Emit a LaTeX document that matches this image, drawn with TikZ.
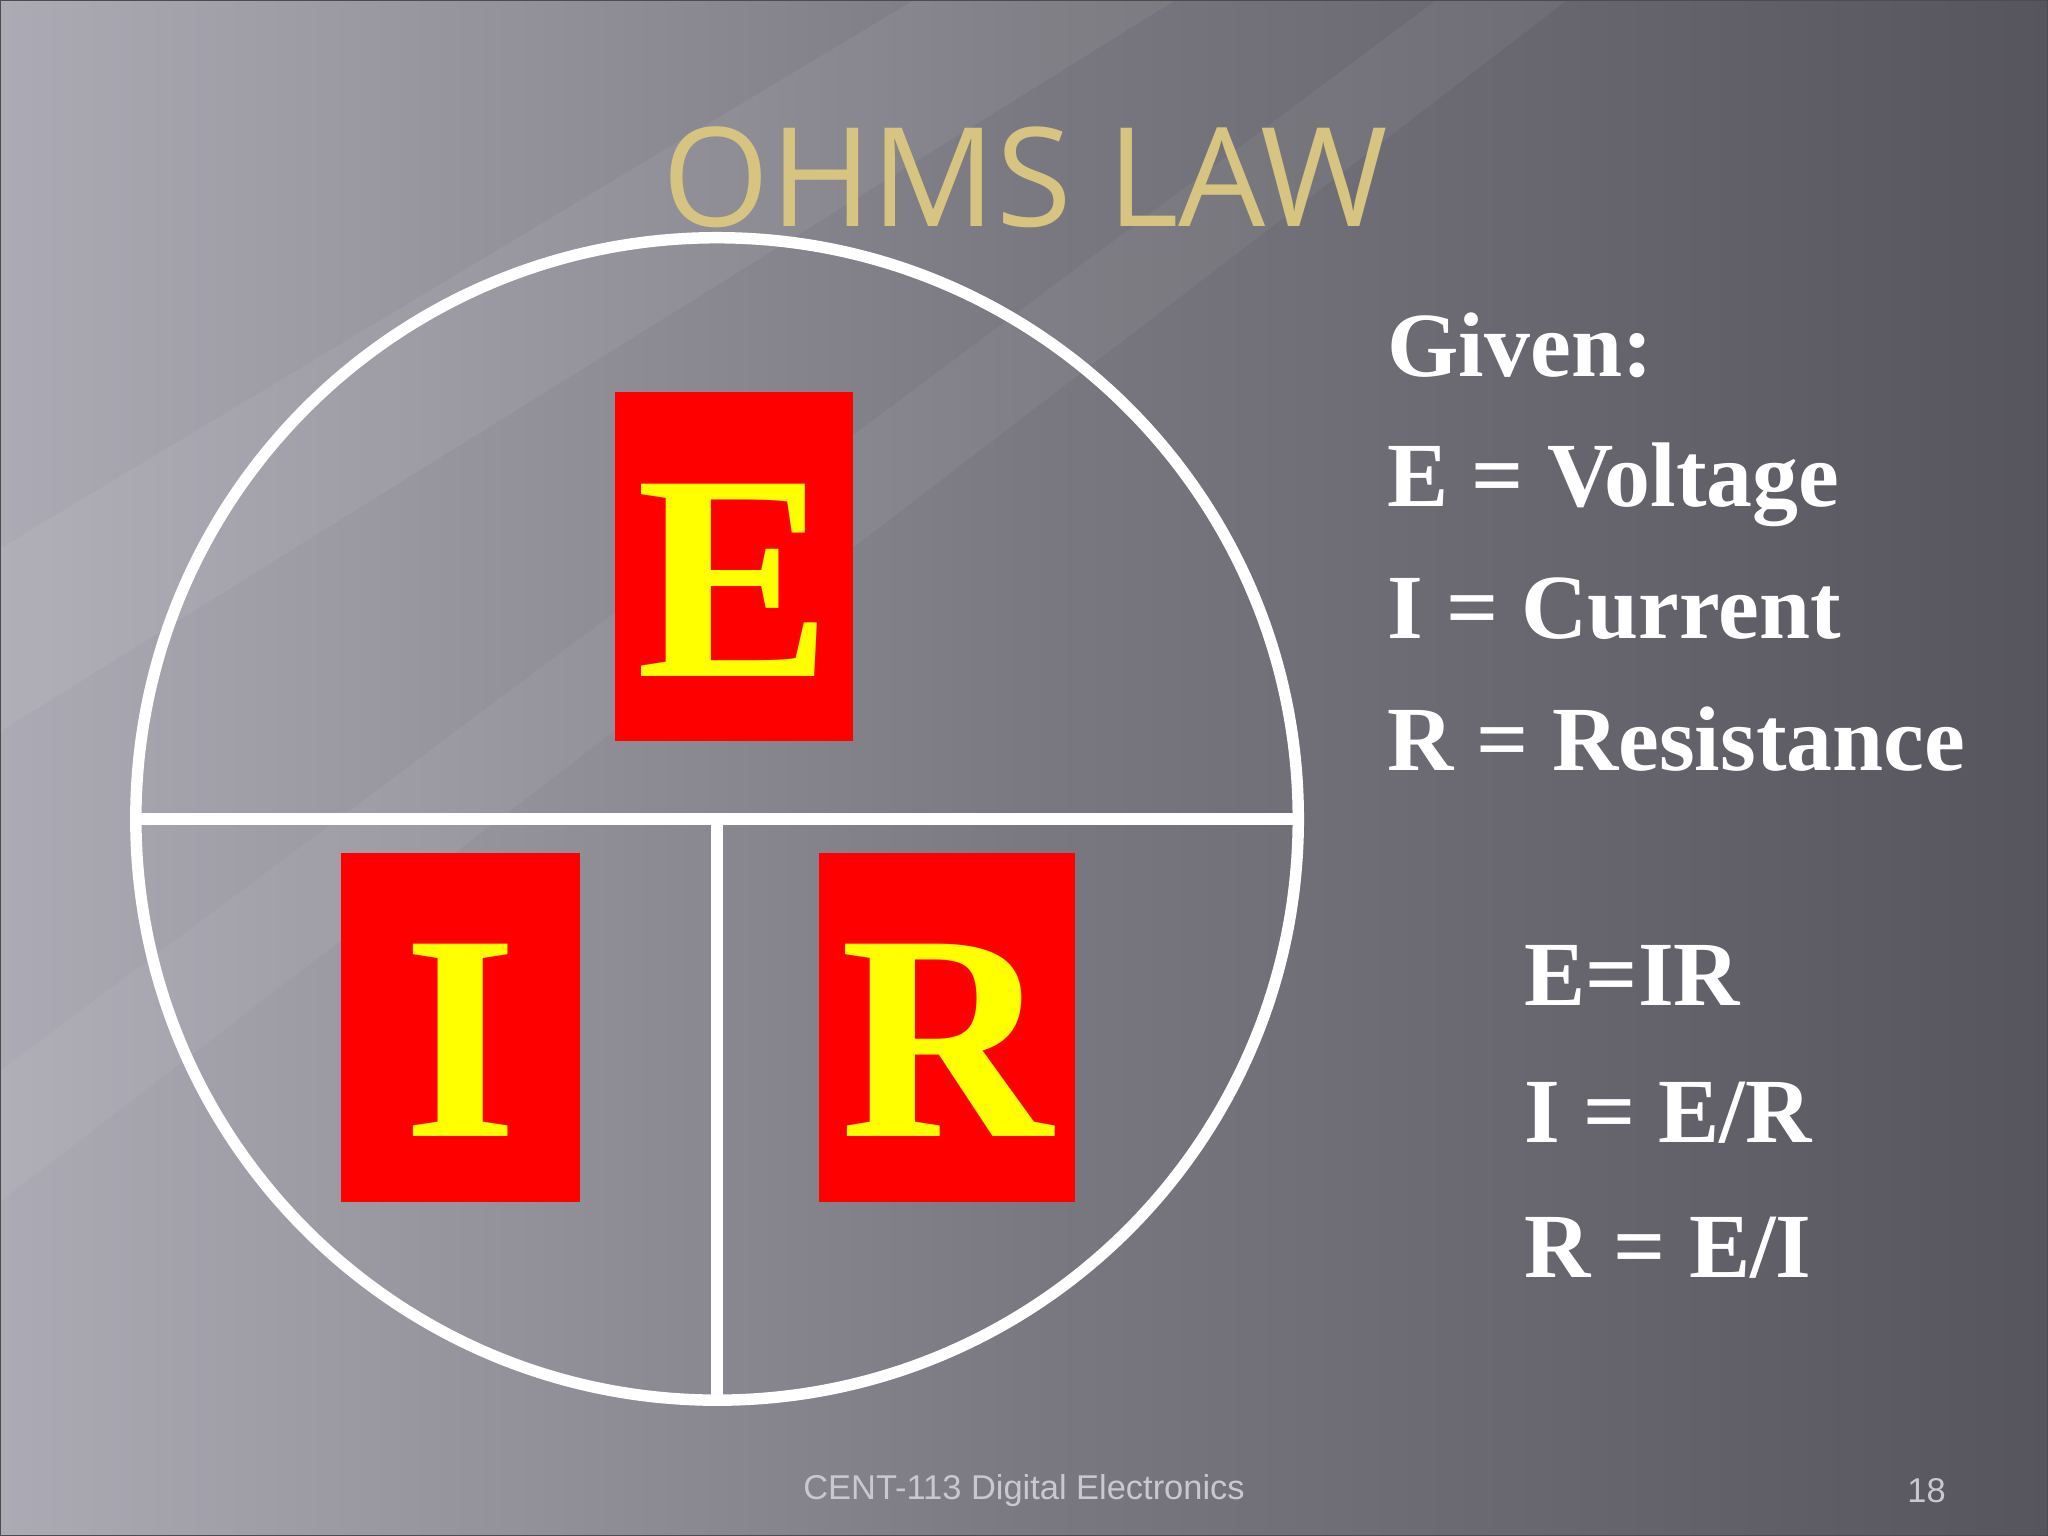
\documentclass[tikz,border=0pt]{standalone}
\usepackage{fontspec}
\setmainfont{Liberation Serif}
\newfontfamily\titlefont{Open Sans}
\newfontfamily\footfont{Liberation Sans}
\definecolor{bgl}{RGB}{172,170,180}
\definecolor{bgm}{RGB}{122,120,128}
\definecolor{bgd}{RGB}{86,84,92}
\definecolor{gold}{RGB}{214,196,128}
\definecolor{boxred}{RGB}{255,0,0}
\definecolor{lettery}{RGB}{255,255,0}
\definecolor{footgray}{RGB}{200,200,205}
\tikzset{
  letterbox/.style={inner sep=0, text=lettery,
     font=\bfseries\fontsize{128}{128}\selectfont},
  given/.style={anchor=base west, inner sep=0, text=white, font=\bfseries\fontsize{40}{40}\selectfont},
  wline/.style={draw=white, line width=5pt},
}
\begin{document}
\begin{tikzpicture}[x=0.02cm,y=-0.02cm]
\useasboundingbox (0,0) rectangle (1568,1176);
\shade[shading angle=-60, left color=bgl, right color=bgd, middle color=bgm] (0,0) rectangle (1568,1176);
\fill[white, opacity=0.06] (0,420) -- (700,0) -- (900,0) -- (0,560) -- cycle;
\fill[white, opacity=0.05] (0,820) -- (1100,0) -- (1200,0) -- (0,920) -- cycle;
\draw[gray!60!black, line width=1pt] (0,0) rectangle (1568,1176);
% title
\node (title) [text=gold, font=\titlefont\fontsize{60}{60}\selectfont, inner sep=0] at (785,136) {OHMS LAW};
% circle
\coordinate (c) at (549,627);
\draw[wline] (c) circle (445*0.02cm);
\coordinate (hl) at (106,627);
\coordinate (hr) at (992,627);
\coordinate (vb) at (549,1070);
\draw[wline] (hl) -- (hr);
\draw[wline] (c) -- (vb);
% boxes
\fill[boxred] (471,300) rectangle (653,567);
\fill[boxred] (261,653) rectangle (444,920);
\fill[boxred] (627,653) rectangle (823,920);
\node (E) [letterbox, anchor=base] at (562,518) {E};
\node (I) [letterbox, anchor=base] at (352.5,870) {I};
\node (R) [letterbox, anchor=base] at (725,870) {R};
% right text
\node (g1) [given] at (1062,288) {Given:};
\node (g2) [given] at (1062,388) {E = Voltage};
\node (g3) [given] at (1062,489) {I = Current};
\node (g4) [given] at (1062,590) {R = Resistance};
\node (f1) [given] at (1167,770) {E=IR};
\node (f2) [given] at (1167,875) {I = E/R};
\node (f3) [given] at (1167,978) {R = E/I};
% footer
\node (foot) [text=footgray, font=\footfont\fontsize{15}{15}\selectfont, inner sep=0] at (784,1141) {CENT-113 Digital Electronics};
\node (page) [text=footgray, font=\footfont\fontsize{15}{15}\selectfont, inner sep=0] at (1475,1141) {18};
\end{tikzpicture}
\end{document}
